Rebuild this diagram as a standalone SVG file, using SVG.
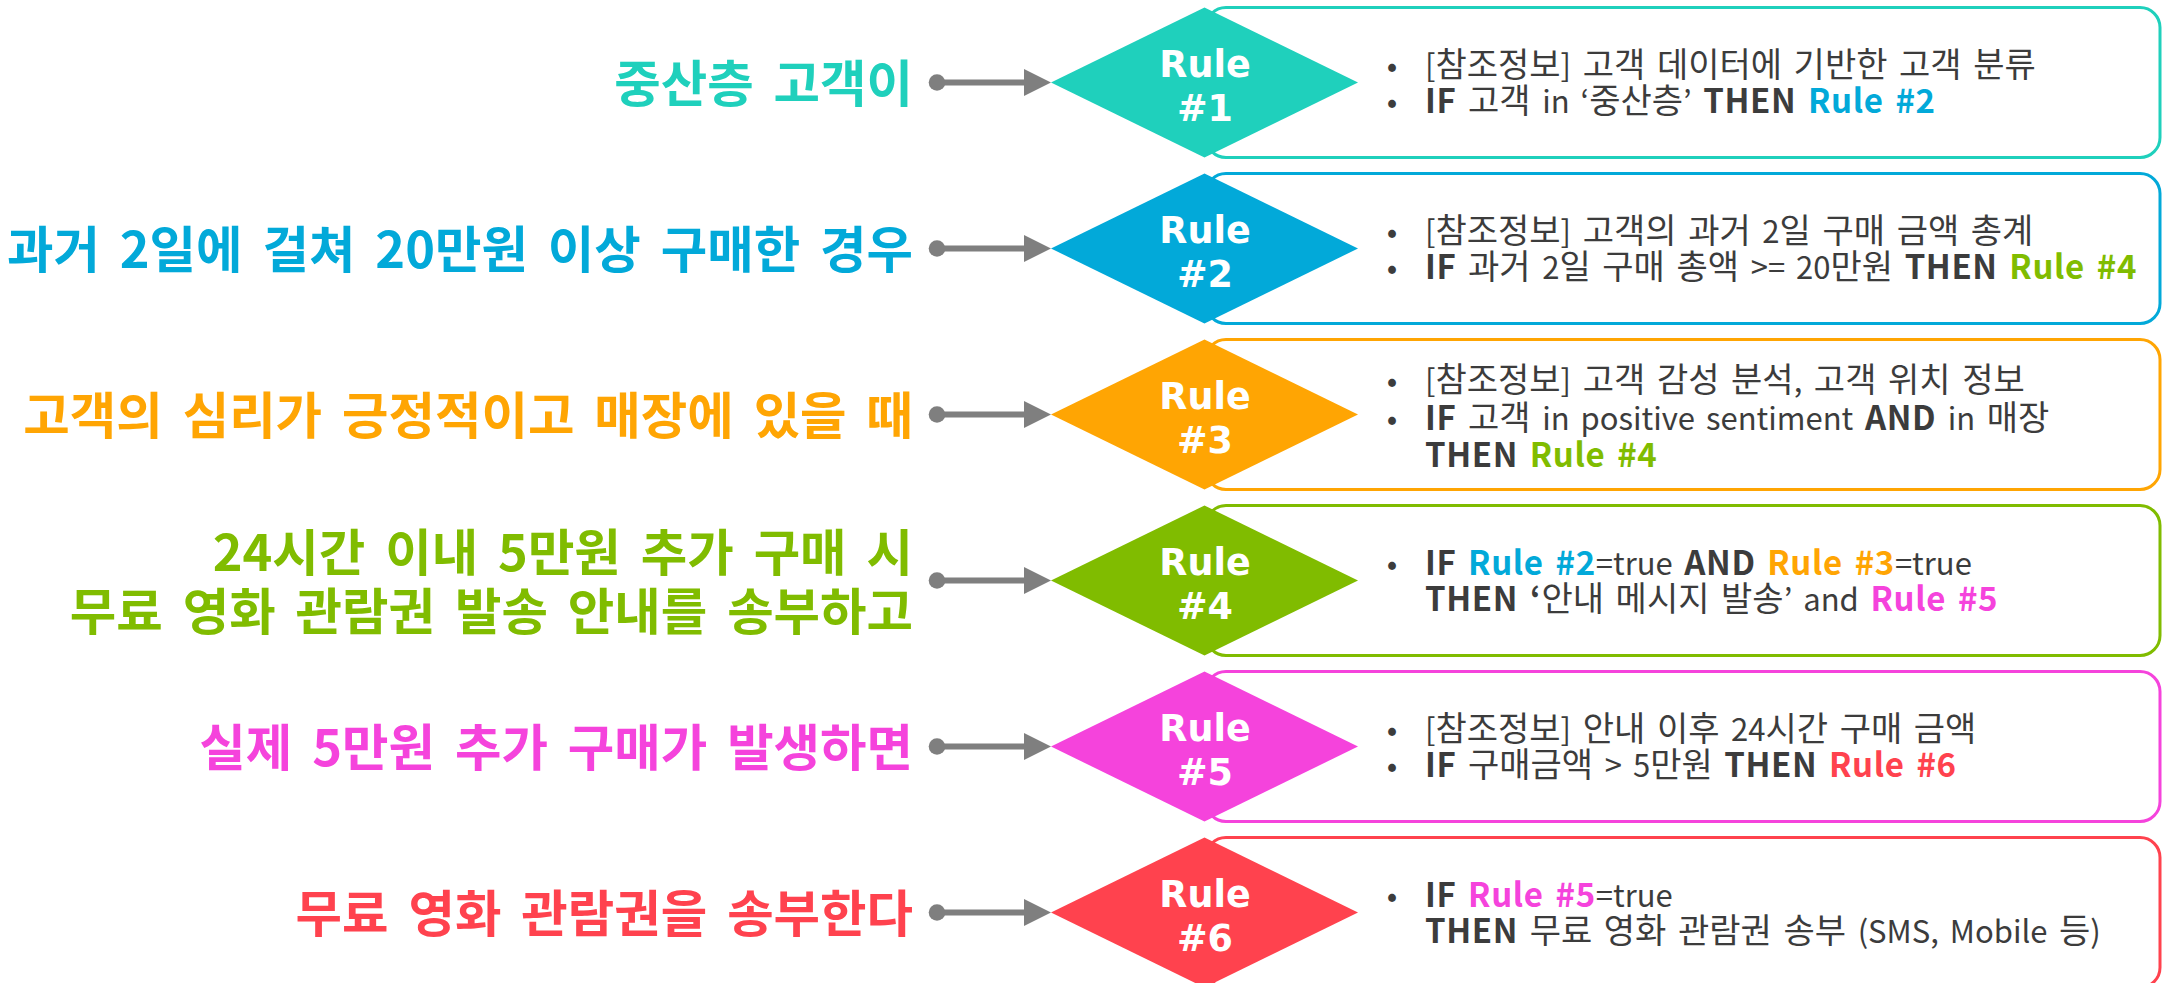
<svg xmlns="http://www.w3.org/2000/svg" width="2165" height="983" viewBox="0 0 2165 983">
<defs>
<style>
.lbl{font-family:"Noto Sans CJK KR","Noto Sans",sans-serif;font-weight:700;font-size:50.5px;word-spacing:8.5px;text-anchor:end}
.rl{font-family:"DejaVu Sans",sans-serif;font-weight:700;font-size:36.5px;fill:#fff;text-anchor:middle}
.tx{font-family:"Noto Sans CJK KR","Noto Sans",sans-serif;font-weight:400;font-size:34px;fill:#3c3c3c;word-spacing:4px}
.l{font-size:31px}
.b{font-weight:700;font-size:33px;letter-spacing:0.6px}
.bu{font-family:"Noto Sans CJK KR","Noto Sans",sans-serif;font-size:31px;fill:#3c3c3c;text-anchor:middle}
.box{fill:#fff;stroke-width:3}
.conn{stroke:#7f7f7f;stroke-width:6;fill:none;marker-start:url(#dot);marker-end:url(#tri)}
.c1{fill:#1fd0bc}.s1{stroke:#1fd0bc}
.c2{fill:#02a9d9}.s2{stroke:#02a9d9}
.c3{fill:#ffa503}.s3{stroke:#ffa503}
.c4{fill:#80bc00}.s4{stroke:#80bc00}
.c5{fill:#f543dc}.s5{stroke:#f543dc}
.c6{fill:#ff424e}.s6{stroke:#ff424e}
</style>
<marker id="dot" markerUnits="userSpaceOnUse" markerWidth="18" markerHeight="18" refX="9" refY="9" orient="auto"><circle cx="9" cy="9" r="8.3" fill="#7f7f7f"/></marker>
<marker id="tri" markerUnits="userSpaceOnUse" markerWidth="28" markerHeight="27" refX="0" refY="13.5" orient="auto"><path d="M0,0 L27,13.5 L0,27 z" fill="#7f7f7f"/></marker>
</defs>

<g id="connectors">
<path class="conn" d="M937,82.5 H1024"/>
<path class="conn" d="M937,248.5 H1024"/>
<path class="conn" d="M937,414.5 H1024"/>
<path class="conn" d="M937,580.5 H1024"/>
<path class="conn" d="M937,746.5 H1024"/>
<path class="conn" d="M937,912.5 H1024"/>
</g>

<g id="label1"><text class="lbl c1" x="913" y="102">중산층 고객이</text></g>
<g id="label2"><text class="lbl c2" x="913" y="268">과거 2일에 걸쳐 20만원 이상 구매한 경우</text></g>
<g id="label3"><text class="lbl c3" x="913" y="434">고객의 심리가 긍정적이고 매장에 있을 때</text></g>
<g id="label4"><text class="lbl c4" x="913" y="570.5">24시간 이내 5만원 추가 구매 시</text><text class="lbl c4" x="913" y="629.5">무료 영화 관람권 발송 안내를 송부하고</text></g>
<g id="label5"><text class="lbl c5" x="913" y="766">실제 5만원 추가 구매가 발생하면</text></g>
<g id="label6"><text class="lbl c6" x="913" y="932">무료 영화 관람권을 송부한다</text></g>

<g id="rule1">
<rect class="box s1" x="1206" y="7.5" width="954" height="150" rx="20"/>
<polygon class="c1" points="1204.5,7.5 1358,82.5 1204.5,157.5 1051,82.5"/>
<text class="rl" x="1205" y="77">Rule</text><text class="rl" x="1205" y="121">#1</text>
<text class="bu" x="1392" y="76.5">•</text><text class="tx" x="1425" y="76.5"><tspan class="l">[</tspan>참조정보<tspan class="l">]</tspan> 고객 데이터에 기반한 고객 분류</text>
<text class="bu" x="1392" y="112.5">•</text><text class="tx" x="1425" y="112.5"><tspan class="b">IF</tspan> 고객 <tspan class="l">in ‘</tspan>중산층<tspan class="l">’</tspan> <tspan class="b">THEN</tspan> <tspan class="b c2">Rule #2</tspan></text>
</g>

<g id="rule2">
<rect class="box s2" x="1206" y="173.5" width="954" height="150" rx="20"/>
<polygon class="c2" points="1204.5,173.5 1358,248.5 1204.5,323.5 1051,248.5"/>
<text class="rl" x="1205" y="243">Rule</text><text class="rl" x="1205" y="287">#2</text>
<text class="bu" x="1392" y="242.5">•</text><text class="tx" x="1425" y="242.5"><tspan class="l">[</tspan>참조정보<tspan class="l">]</tspan> 고객의 과거 <tspan class="l">2</tspan>일 구매 금액 총계</text>
<text class="bu" x="1392" y="278.5">•</text><text class="tx" x="1425" y="278.5"><tspan class="b">IF</tspan> 과거 <tspan class="l">2</tspan>일 구매 총액 <tspan class="l">&gt;= 20</tspan>만원 <tspan class="b">THEN</tspan> <tspan class="b c4">Rule #4</tspan></text>
</g>

<g id="rule3">
<rect class="box s3" x="1206" y="339.5" width="954" height="150" rx="20"/>
<polygon class="c3" points="1204.5,339.5 1358,414.5 1204.5,489.5 1051,414.5"/>
<text class="rl" x="1205" y="409">Rule</text><text class="rl" x="1205" y="453">#3</text>
<text class="bu" x="1392" y="392">•</text><text class="tx" x="1425" y="392"><tspan class="l">[</tspan>참조정보<tspan class="l">]</tspan> 고객 감성 분석<tspan class="l">,</tspan> 고객 위치 정보</text>
<text class="bu" x="1392" y="429.5">•</text><text class="tx" x="1425" y="429.5"><tspan class="b">IF</tspan> 고객 <tspan class="l">in positive sentiment</tspan> <tspan class="b">AND</tspan> <tspan class="l">in</tspan> 매장</text>
<text class="tx" x="1425" y="467"><tspan class="b">THEN</tspan> <tspan class="b c4">Rule #4</tspan></text>
</g>

<g id="rule4">
<rect class="box s4" x="1206" y="505.5" width="954" height="150" rx="20"/>
<polygon class="c4" points="1204.5,505.5 1358,580.5 1204.5,655.5 1051,580.5"/>
<text class="rl" x="1205" y="575">Rule</text><text class="rl" x="1205" y="619">#4</text>
<text class="bu" x="1392" y="574.5">•</text><text class="tx" x="1425" y="574.5"><tspan class="b">IF</tspan> <tspan class="b c2">Rule #2</tspan><tspan class="l">=true</tspan> <tspan class="b">AND</tspan> <tspan class="b c3">Rule #3</tspan><tspan class="l">=true</tspan></text>
<text class="tx" x="1425" y="610.5"><tspan class="b">THEN ‘</tspan>안내 메시지 발송<tspan class="l">’ and</tspan> <tspan class="b c5">Rule #5</tspan></text>
</g>

<g id="rule5">
<rect class="box s5" x="1206" y="671.5" width="954" height="150" rx="20"/>
<polygon class="c5" points="1204.5,671.5 1358,746.5 1204.5,821.5 1051,746.5"/>
<text class="rl" x="1205" y="741">Rule</text><text class="rl" x="1205" y="785">#5</text>
<text class="bu" x="1392" y="740.5">•</text><text class="tx" x="1425" y="740.5"><tspan class="l">[</tspan>참조정보<tspan class="l">]</tspan> 안내 이후 <tspan class="l">24</tspan>시간 구매 금액</text>
<text class="bu" x="1392" y="776.5">•</text><text class="tx" x="1425" y="776.5"><tspan class="b">IF</tspan> 구매금액 <tspan class="l">&gt; 5</tspan>만원 <tspan class="b">THEN</tspan> <tspan class="b c6">Rule #6</tspan></text>
</g>

<g id="rule6">
<rect class="box s6" x="1206" y="837.5" width="954" height="150" rx="20"/>
<polygon class="c6" points="1204.5,837.5 1358,912.5 1204.5,987.5 1051,912.5"/>
<text class="rl" x="1205" y="907">Rule</text><text class="rl" x="1205" y="951">#6</text>
<text class="bu" x="1392" y="906.5">•</text><text class="tx" x="1425" y="906.5"><tspan class="b">IF</tspan> <tspan class="b c5">Rule #5</tspan><tspan class="l">=true</tspan></text>
<text class="tx" x="1425" y="942.5"><tspan class="b">THEN</tspan> 무료 영화 관람권 송부 <tspan class="l">(SMS, Mobile</tspan> 등<tspan class="l">)</tspan></text>
</g>
</svg>
